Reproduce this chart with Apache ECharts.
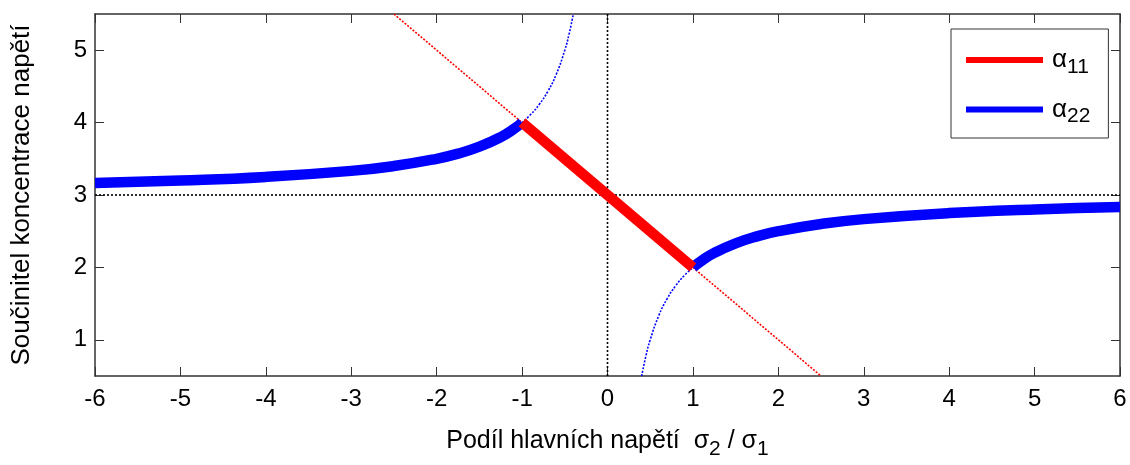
<!DOCTYPE html>
<html>
<head>
<meta charset="utf-8">
<script src="https://cdn.jsdelivr.net/npm/echarts@6/dist/echarts.min.js"></script>
<style>html,body{margin:0;padding:0;background:#fff}#c{width:1130px;height:465px}</style>
</head>
<body>
<div id="c"></div>
<script>
// ---- data ----
const xTicks = [-6,-5,-4,-3,-2,-1,0,1,2,3,4,5,6];
const yTicks = [1,2,3,4,5];
// alpha11 thick part
const a11X = [-1, 0, 1];
const a11Y = [4, 3, 2];
// alpha11 dotted continuation
const a11DotX = [-2.5, -1, 1, 2.5];
const a11DotY = [5.5, 4, 2, 0.5];
// alpha22 thick, left branch
const a22LX = [-6,-5,-4,-3,-2.5,-2,-1.75,-1.5,-1.25,-1.1,-1];
const a22LY = [3.167,3.2,3.25,3.333,3.4,3.5,3.571,3.667,3.8,3.909,4.0];
// alpha22 thick, right branch
const a22RX = [1,1.1,1.25,1.5,1.75,2,2.5,3,4,5,6];
const a22RY = [2.0,2.091,2.2,2.333,2.429,2.5,2.6,2.667,2.75,2.8,2.833];
// alpha22 dotted, near the singularity
const a22DLX = [-1,-0.9,-0.8,-0.7,-0.6,-0.5,-0.45,-0.4];
const a22DLY = [4.0,4.111,4.25,4.429,4.667,5.0,5.222,5.5];
const a22DRX = [0.4,0.45,0.5,0.6,0.7,0.8,0.9,1];
const a22DRY = [0.5,0.778,1.0,1.333,1.571,1.75,1.889,2.0];
// reference lines
const refX = 0;
const refY = 3;

const zip = (a,b) => a.map((v,i)=>[v,b[i]]);
const FONT = '"Liberation Sans", Arial, sans-serif';
const AX = '#333';

const chart = echarts.init(document.getElementById('c'), null, {renderer:'canvas'});
const baseX = {type:'value', min:-6, max:6, interval:1};
const baseY = {type:'value', min:0.5, max:5.5};
chart.setOption({
  animation:false,
  textStyle:{fontFamily:FONT},
  grid:{left:95, right:10, top:14, bottom:85},
  xAxis:[
    Object.assign({}, baseX, {
      position:'bottom',
      axisLine:{show:true, onZero:false, lineStyle:{color:AX, width:1.5}},
      axisTick:{show:true, inside:true, length:9, lineStyle:{color:AX}, customValues:xTicks},
      axisLabel:{fontSize:24, color:'#000', margin:11, fontFamily:FONT, customValues:xTicks},
      splitLine:{show:false},
      name:'{t|Podíl hlavních napětí  σ}{s|2}{t| / σ}{s|1}',
      nameLocation:'middle', nameGap:47,
      nameTextStyle:{rich:{
        t:{fontSize:25, color:'#000', fontFamily:FONT},
        s:{fontSize:21, color:'#000', fontFamily:FONT, padding:[16,0,0,0]}
      }}
    }),
    Object.assign({}, baseX, {
      position:'top',
      axisLine:{show:true, onZero:false, lineStyle:{color:AX, width:1.5}},
      axisTick:{show:true, inside:true, length:9, lineStyle:{color:AX}, customValues:xTicks},
      axisLabel:{show:false},
      splitLine:{show:false}
    })
  ],
  yAxis:[
    Object.assign({}, baseY, {
      position:'left',
      axisLine:{show:true, onZero:false, lineStyle:{color:AX, width:1.5}},
      axisTick:{show:true, inside:true, length:9, lineStyle:{color:AX}, customValues:yTicks},
      axisLabel:{fontSize:24, color:'#000', margin:8, fontFamily:FONT, customValues:yTicks},
      splitLine:{show:false},
      name:'Součinitel koncentrace napětí',
      nameLocation:'middle', nameGap:60, nameRotate:90,
      nameTextStyle:{fontSize:26, color:'#000', fontFamily:FONT}
    }),
    Object.assign({}, baseY, {
      position:'right',
      axisLine:{show:true, onZero:false, lineStyle:{color:AX, width:1.5}},
      axisTick:{show:true, inside:true, length:9, lineStyle:{color:AX}, customValues:yTicks},
      axisLabel:{show:false},
      splitLine:{show:false}
    })
  ],
  legend:{
    data:['α11','α22'],
    orient:'vertical',
    left:951, top:29,
    padding:[18,18,11,15],
    itemGap:19,
    itemWidth:77, itemHeight:6,
    icon:'rect',
    backgroundColor:'#fff',
    borderColor:'#333', borderWidth:1, borderRadius:0,
    formatter: n => '{a|α}{s|' + n.slice(1) + '}',
    textStyle:{
      rich:{
        a:{fontSize:26, color:'#000', fontFamily:FONT, padding:[0,0,0,4]},
        s:{fontSize:21, color:'#000', fontFamily:FONT, padding:[14,0,0,0]}
      }
    }
  },
  series:[
    {type:'line', name:'refY', data:[[-6,refY],[6,refY]], symbol:'none', silent:true,
     lineStyle:{color:'#000', width:1.6, type:[2,2]}},
    {type:'line', name:'refX', data:[[refX,0.5],[refX,5.5]], symbol:'none', silent:true,
     lineStyle:{color:'#000', width:1.6, type:[2,2]}},
    {type:'line', name:'a11dot', data:zip(a11DotX,a11DotY), symbol:'none',
     lineStyle:{color:'#ff0000', width:1.6, type:[2,1.5]}},
    {type:'line', name:'a22dotL', data:zip(a22DLX,a22DLY), symbol:'none', smooth:true,
     lineStyle:{color:'#0000ff', width:1.6, type:[2,1.5]}},
    {type:'line', name:'a22dotR', data:zip(a22DRX,a22DRY), symbol:'none', smooth:true,
     lineStyle:{color:'#0000ff', width:1.6, type:[2,1.5]}},
    {type:'line', name:'α22', data:zip(a22LX,a22LY), symbol:'none', smooth:true, color:'#0000ff',
     lineStyle:{color:'#0000ff', width:10.5}},
    {type:'line', name:'α22', data:zip(a22RX,a22RY), symbol:'none', smooth:true, color:'#0000ff',
     lineStyle:{color:'#0000ff', width:10.5}},
    {type:'line', name:'α11', data:zip(a11X,a11Y), symbol:'none', color:'#ff0000',
     lineStyle:{color:'#ff0000', width:10.5}}
  ]
});
</script>
</body>
</html>
